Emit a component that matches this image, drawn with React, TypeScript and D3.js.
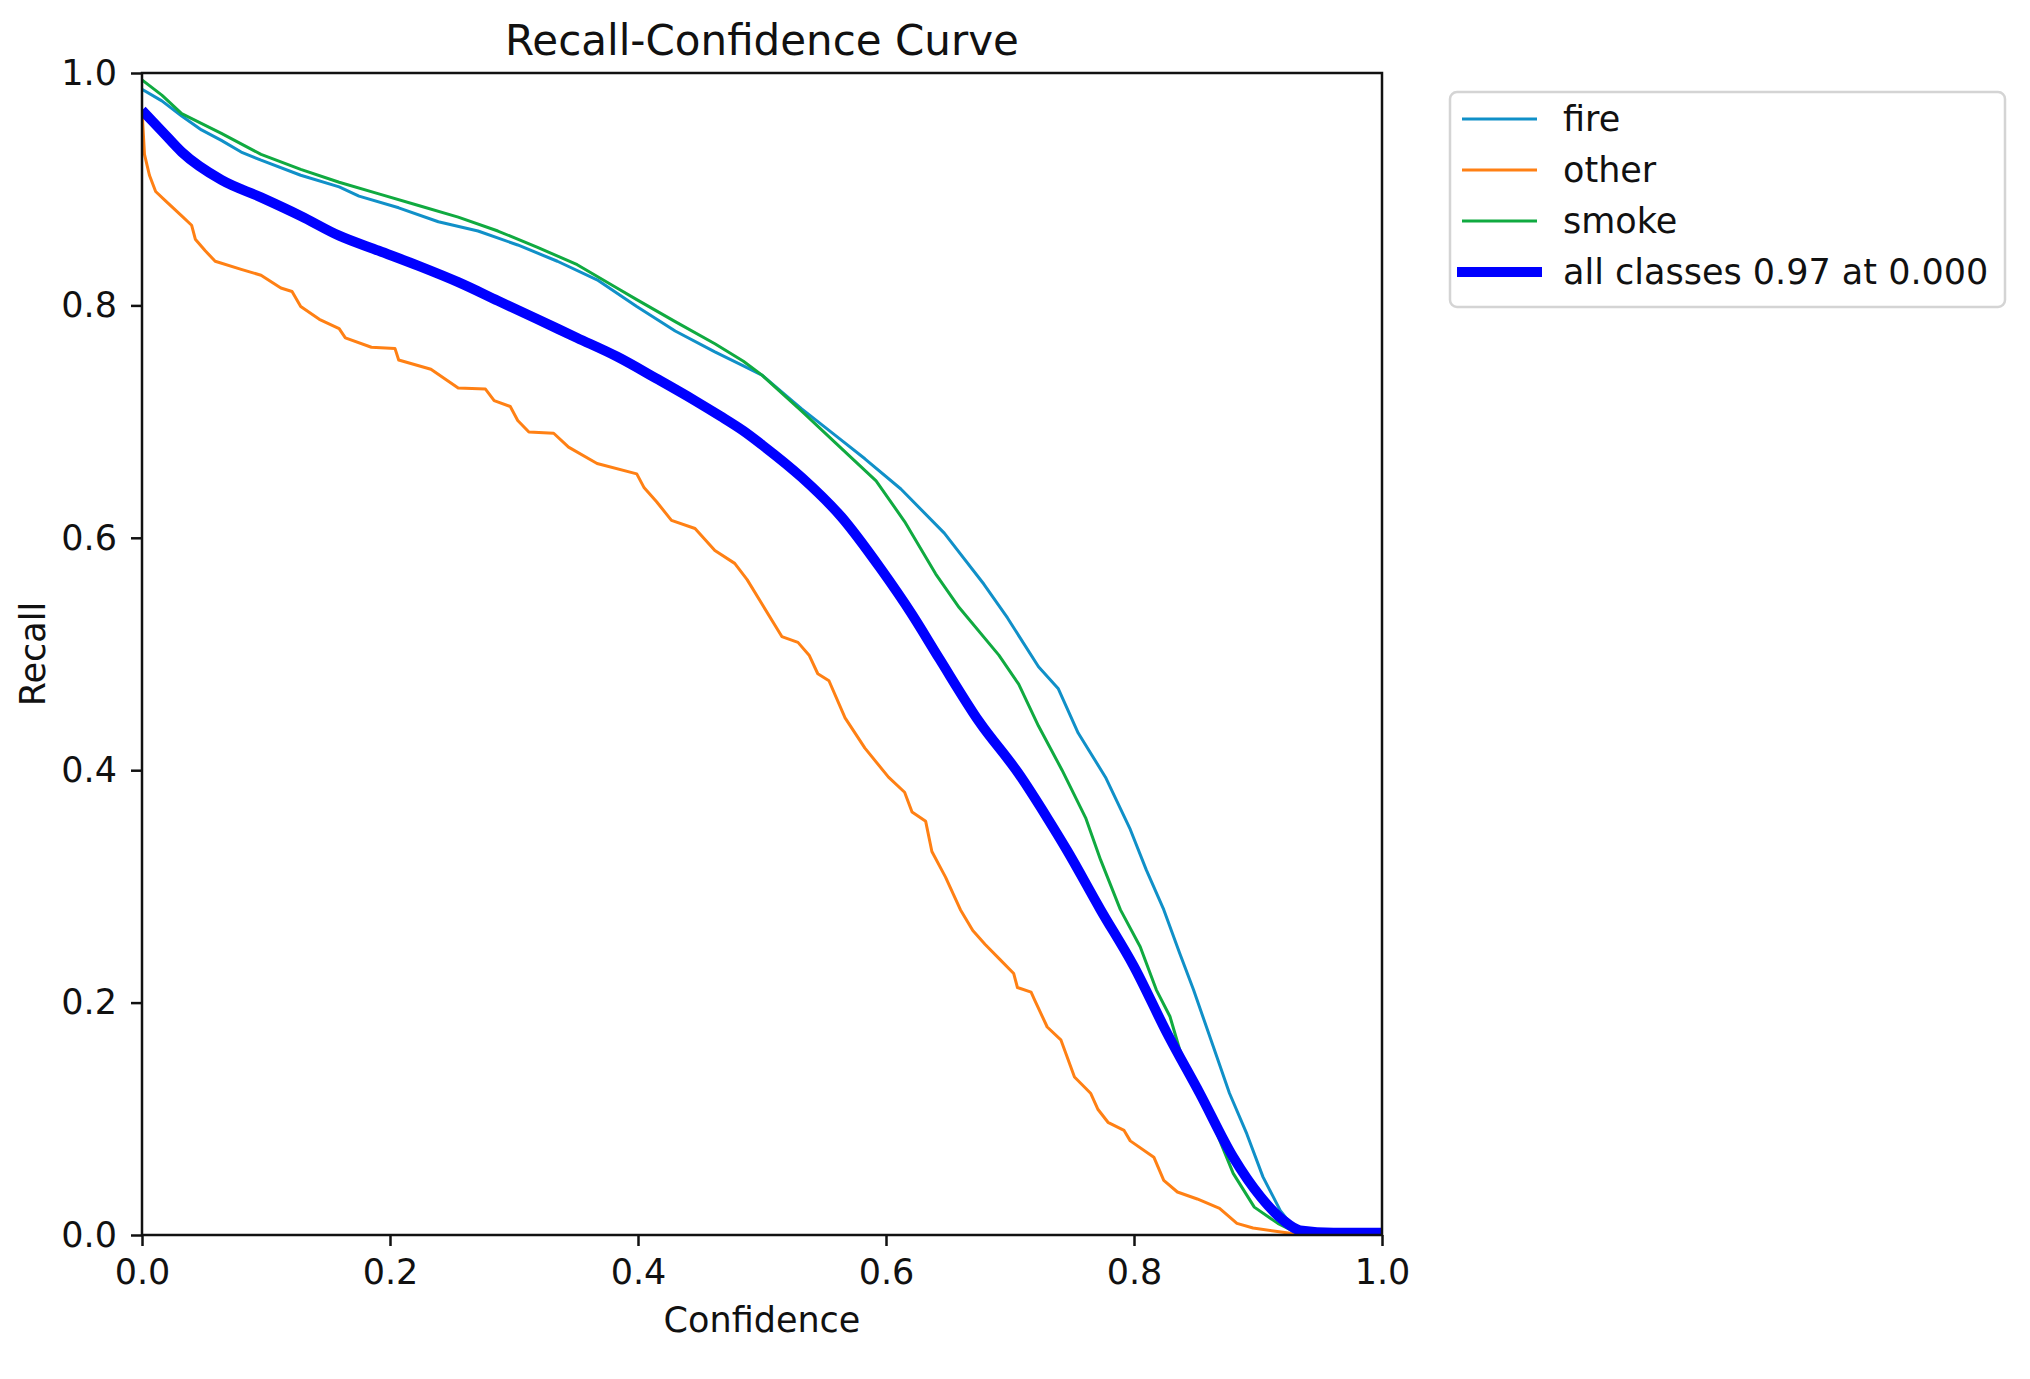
import { useEffect, useRef } from 'react'
import * as d3 from 'd3'

// values (confidence -> recall)
const fireConf = [0, 0.016, 0.032, 0.048, 0.064, 0.08, 0.096, 0.128, 0.159, 0.175, 0.207, 0.239, 0.271, 0.303, 0.335, 0.367, 0.399, 0.43, 0.462, 0.485, 0.5, 0.532, 0.564, 0.583, 0.612, 0.647, 0.679, 0.698, 0.723, 0.739, 0.755, 0.777, 0.797, 0.81, 0.824, 0.837, 0.848, 0.864, 0.877, 0.891, 0.904, 0.918, 0.929, 0.948, 0.96, 1]
const fireRecall = [0.986, 0.976, 0.963, 0.951, 0.942, 0.932, 0.925, 0.912, 0.902, 0.894, 0.884, 0.872, 0.864, 0.852, 0.838, 0.822, 0.799, 0.778, 0.76, 0.748, 0.74, 0.711, 0.684, 0.668, 0.642, 0.604, 0.56, 0.531, 0.489, 0.47, 0.432, 0.394, 0.349, 0.314, 0.28, 0.242, 0.211, 0.162, 0.122, 0.087, 0.05, 0.021, 0.006, 0.002, 0, 0]

const otherConf = [0, 0.002, 0.006, 0.011, 0.019, 0.032, 0.04, 0.043, 0.051, 0.059, 0.08, 0.096, 0.112, 0.121, 0.128, 0.143, 0.159, 0.164, 0.185, 0.204, 0.207, 0.233, 0.255, 0.277, 0.284, 0.297, 0.303, 0.312, 0.332, 0.344, 0.367, 0.399, 0.405, 0.415, 0.427, 0.446, 0.462, 0.478, 0.488, 0.5, 0.516, 0.529, 0.538, 0.545, 0.554, 0.567, 0.583, 0.602, 0.615, 0.621, 0.632, 0.637, 0.648, 0.66, 0.67, 0.68, 0.692, 0.703, 0.706, 0.717, 0.72, 0.73, 0.741, 0.752, 0.765, 0.771, 0.779, 0.792, 0.797, 0.816, 0.824, 0.835, 0.851, 0.869, 0.883, 0.896, 0.929, 0.95, 1]
const otherRecall = [0.968, 0.93, 0.912, 0.898, 0.89, 0.877, 0.869, 0.857, 0.847, 0.838, 0.831, 0.826, 0.815, 0.812, 0.799, 0.788, 0.78, 0.772, 0.764, 0.763, 0.753, 0.745, 0.729, 0.728, 0.718, 0.713, 0.701, 0.691, 0.69, 0.678, 0.664, 0.655, 0.643, 0.631, 0.615, 0.608, 0.589, 0.578, 0.564, 0.543, 0.515, 0.51, 0.499, 0.483, 0.477, 0.445, 0.419, 0.394, 0.381, 0.364, 0.356, 0.33, 0.308, 0.28, 0.262, 0.25, 0.237, 0.225, 0.213, 0.209, 0.202, 0.179, 0.168, 0.136, 0.122, 0.108, 0.097, 0.09, 0.081, 0.067, 0.047, 0.037, 0.031, 0.023, 0.01, 0.006, 0.001, 0, 0]

const smokeConf = [0, 0.016, 0.032, 0.064, 0.096, 0.128, 0.159, 0.191, 0.223, 0.255, 0.287, 0.319, 0.351, 0.383, 0.399, 0.43, 0.462, 0.485, 0.5, 0.532, 0.564, 0.592, 0.615, 0.64, 0.659, 0.691, 0.707, 0.723, 0.742, 0.761, 0.773, 0.789, 0.805, 0.818, 0.829, 0.837, 0.853, 0.867, 0.88, 0.897, 0.916, 0.929, 0.945, 1]
const smokeRecall = [0.994, 0.981, 0.965, 0.948, 0.93, 0.917, 0.906, 0.896, 0.886, 0.876, 0.864, 0.85, 0.835, 0.815, 0.805, 0.786, 0.767, 0.752, 0.74, 0.709, 0.677, 0.649, 0.614, 0.569, 0.54, 0.499, 0.474, 0.438, 0.4, 0.359, 0.323, 0.28, 0.248, 0.211, 0.188, 0.159, 0.122, 0.087, 0.053, 0.024, 0.01, 0.003, 0, 0]

const allConf = [0, 0.016, 0.032, 0.064, 0.096, 0.128, 0.159, 0.191, 0.223, 0.255, 0.287, 0.319, 0.351, 0.383, 0.415, 0.446, 0.466, 0.485, 0.5, 0.532, 0.564, 0.596, 0.621, 0.643, 0.675, 0.707, 0.73, 0.746, 0.773, 0.8, 0.827, 0.853, 0.88, 0.902, 0.92, 0.934, 0.961, 1]
const allRecall = [0.968, 0.95, 0.932, 0.908, 0.893, 0.877, 0.86, 0.847, 0.834, 0.82, 0.804, 0.788, 0.772, 0.756, 0.737, 0.718, 0.705, 0.692, 0.68, 0.652, 0.618, 0.573, 0.534, 0.496, 0.442, 0.397, 0.359, 0.331, 0.28, 0.231, 0.173, 0.122, 0.067, 0.033, 0.013, 0.004, 0.002, 0.002]

const seriesNames = ['fire', 'other', 'smoke', 'all classes 0.97 at 0.000']
const seriesColors = ['#1090c8', '#ff8014', '#10aa40', '#0000ff']
const seriesWidths = [3, 3, 3, 10]
const tickValues = [0, 0.2, 0.4, 0.6, 0.8, 1.0]

export default function App() {
  const ref = useRef<SVGSVGElement | null>(null)

  useEffect(() => {
    if (!ref.current) return
    const svg = d3.select(ref.current)
    svg.selectAll('*').remove()

    const width = 2030
    const height = 1379
    const margin = { top: 73, right: 648, bottom: 144, left: 142 }
    const font = '"DejaVu Sans", sans-serif'

    const x = d3.scaleLinear().domain([0, 1]).range([margin.left, width - margin.right])
    const y = d3.scaleLinear().domain([0, 1]).range([height - margin.bottom, margin.top])

    svg.append('rect').attr('width', width).attr('height', height).attr('fill', '#ffffff')

    const series = [
      { xs: fireConf, ys: fireRecall },
      { xs: otherConf, ys: otherRecall },
      { xs: smokeConf, ys: smokeRecall },
      { xs: allConf, ys: allRecall }
    ]

    const clip = svg.append('clipPath').attr('id', 'plot-clip')
    clip.append('rect')
      .attr('x', x(0)).attr('y', y(1))
      .attr('width', x(1) - x(0)).attr('height', y(0) - y(1))

    const line = d3.line<[number, number]>()
      .x(d => x(d[0]))
      .y(d => y(d[1]))

    // the mean curve is smoothed, per-class curves are raw
    const smoothLine = d3.line<[number, number]>()
      .x(d => x(d[0]))
      .y(d => y(d[1]))
      .curve(d3.curveMonotoneX)

    const plot = svg.append('g').attr('clip-path', 'url(#plot-clip)')
    series.forEach((s, i) => {
      const pts = s.xs.map((c, j) => [c, s.ys[j]] as [number, number])
      plot.append('path')
        .datum(pts)
        .attr('fill', 'none')
        .attr('stroke', seriesColors[i])
        .attr('stroke-width', seriesWidths[i])
        .attr('stroke-linejoin', 'round')
        .attr('d', i === 3 ? smoothLine : line)
    })

    // axes
    const xAxis = svg.append('g')
      .attr('transform', `translate(0,${y(0)})`)
      .call(d3.axisBottom(x).tickValues(tickValues).tickFormat(d3.format('.1f')).tickSize(11).tickPadding(13))
    const yAxis = svg.append('g')
      .attr('transform', `translate(${x(0)},0)`)
      .call(d3.axisLeft(y).tickValues(tickValues).tickFormat(d3.format('.1f')).tickSize(11).tickPadding(14))

    ;[xAxis, yAxis].forEach(g => {
      g.select('.domain').remove()
      g.selectAll('.tick line').attr('stroke', '#111').attr('stroke-width', 2.5)
      g.selectAll('.tick text')
        .attr('fill', '#111')
        .style('font-family', font)
        .style('font-size', '35px')
    })

    svg.append('rect')
      .attr('x', x(0)).attr('y', y(1))
      .attr('width', x(1) - x(0)).attr('height', y(0) - y(1))
      .attr('fill', 'none')
      .attr('stroke', '#111')
      .attr('stroke-width', 2.5)

    // title and labels
    svg.append('text')
      .attr('x', (x(0) + x(1)) / 2).attr('y', 55)
      .attr('text-anchor', 'middle')
      .attr('fill', '#111')
      .style('font-family', font).style('font-size', '42px')
      .text('Recall-Confidence Curve')

    svg.append('text')
      .attr('x', (x(0) + x(1)) / 2).attr('y', 1332)
      .attr('text-anchor', 'middle')
      .attr('fill', '#111')
      .style('font-family', font).style('font-size', '35px')
      .text('Confidence')

    svg.append('text')
      .attr('transform', `translate(45,${(y(0) + y(1)) / 2}) rotate(-90)`)
      .attr('text-anchor', 'middle')
      .attr('fill', '#111')
      .style('font-family', font).style('font-size', '35px')
      .text('Recall')

    // legend
    const legend = svg.append('g').attr('transform', 'translate(1450,92)')
    legend.append('rect')
      .attr('width', 555).attr('height', 215)
      .attr('rx', 7)
      .attr('fill', '#ffffff')
      .attr('stroke', '#d4d4d4')
      .attr('stroke-width', 2.5)

    seriesNames.forEach((name, i) => {
      const cy = 27 + i * 51
      legend.append('line')
        .attr('x1', 12).attr('x2', 87)
        .attr('y1', cy).attr('y2', cy)
        .attr('stroke', seriesColors[i])
        .attr('stroke-width', seriesWidths[i])
        .attr('stroke-linecap', i === 3 ? 'square' : 'butt')
      legend.append('text')
        .attr('x', 113).attr('y', cy)
        .attr('dy', '0.35em')
        .attr('fill', '#111')
        .style('font-family', font).style('font-size', '35px')
        .text(name)
    })

    svg.attr('width', width).attr('height', height)
  }, [])

  return (
    <div>
      <style>{'body{margin:0;background:#fff}'}</style>
      <svg ref={ref} style={{ display: 'block' }}></svg>
    </div>
  )
}
